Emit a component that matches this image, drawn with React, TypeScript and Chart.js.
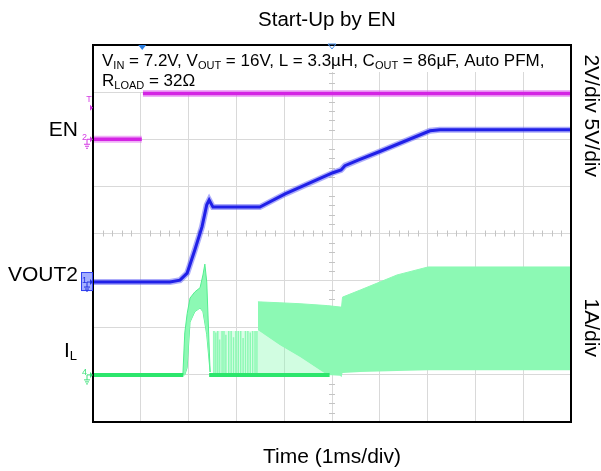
import React, { useEffect, useRef } from 'react';
import { Chart, registerables } from 'chart.js';
Chart.register(...registerables);

const FONT = '"Liberation Sans", Arial, Helvetica, sans-serif';

const TITLE = 'Start-Up by EN';
const X_TITLE = 'Time (1ms/div)';
const RIGHT_TOP = '2V/div 5V/div';
const RIGHT_BOTTOM = '1A/div';
const ANNOT_LINE1 = [
  { t: 'V' }, { t: 'IN', sub: true }, { t: ' = 7.2V, V' }, { t: 'OUT', sub: true },
  { t: ' = 16V, L = 3.3µH, C' }, { t: 'OUT', sub: true }, { t: ' = 86µF, Auto PFM,' },
];
const ANNOT_LINE2 = [{ t: 'R' }, { t: 'LOAD', sub: true }, { t: ' = 32Ω' }];

// axes in divisions
const X_DIVS = 10;
const Y_DIVS = 8;

// reference levels (divisions)
const enGround = 6.0;
const enTrigLevel = 6.73;
const voutGround = 2.97;
const ilGround = 1.0;
const trigTime = 1.03;

// EN trace (edge too fast to be captured)
const enTime = [0, 1.02, 1.03, 1.045, 10];
const enLevel = [6.0, 6.0, null, 6.97, 6.97];

// VOUT2 trace
const voutTime = [0, 1.61, 1.82, 1.97, 2.13, 2.28, 2.38, 2.43, 2.51, 3.49, 4.02, 5.02, 5.19, 5.27, 5.56, 6.0, 7.05, 7.26, 10];
const voutLevel = [2.97, 2.97, 3.01, 3.16, 3.65, 4.14, 4.61, 4.71, 4.56, 4.56, 4.84, 5.29, 5.35, 5.44, 5.56, 5.74, 6.18, 6.2, 6.2];

// IL baseline (zero-current periods)
const ilBaseTime = [0, 1.89, 2.1, 2.43, 4.95];
const ilBaseLevel = [1.0, 1.0, null, 1.0, 1.0];

// IL inrush spike envelope
const spikeTime = [1.88, 1.92, 1.97, 2.03, 2.13, 2.24, 2.3, 2.34, 2.38, 2.45];
const spikeUpper = [1.0, 1.89, 2.3, 2.63, 2.76, 2.85, 3.12, 3.35, 2.97, 1.06];
const spikeLower = [1.0, 1.0, 1.15, 2.12, 2.34, 2.42, 2.34, 2.1, 1.85, 1.06];

// IL PFM pulses
const pulseTime = [2.53, 2.57, 2.61, 2.65, 2.7, 2.74, 2.78, 2.84, 2.89, 2.94, 2.99, 3.04, 3.09, 3.14, 3.19, 3.24, 3.29, 3.34, 3.39, 3.43];
const pulseTop = [1.93, 1.9, 1.93, 1.75, 1.93, 1.93, 1.85, 1.93, 1.93, 1.8, 1.93, 1.93, 1.93, 1.78, 1.93, 1.93, 1.9, 1.93, 1.93, 1.93];
const pulseBandTime = [2.5, 3.45];
const pulseBandTop = [1.93, 1.93];
const pulseBandBottom = [1.0, 1.0];

// IL switching band envelope
const bandTime = [3.45, 3.91, 4.33, 4.9, 5.17, 5.2, 5.22, 5.59, 6.36, 7.01, 10];
const bandUpper = [2.55, 2.53, 2.51, 2.47, 2.44, 2.44, 2.65, 2.8, 3.12, 3.29, 3.29];
const bandLower = [1.95, 1.63, 1.38, 1.0, 0.98, 0.95, 1.04, 1.06, 1.08, 1.1, 1.1];
const bandFloor = [1.0, 1.0, 1.0, 1.0, 0.98, 0.95, 1.04, 1.06, 1.08, 1.1, 1.1];

const MAGENTA = 'rgb(212,36,228)';
const MAGENTA_HALO = 'rgba(226,110,240,0.55)';
const BLUE = 'rgb(32,32,232)';
const BLUE_HALO = 'rgba(90,90,245,0.5)';
const MINT = 'rgb(140,249,180)';
const MINT_LIGHT = 'rgba(140,249,180,0.4)';
const GREEN = '#2ce66c';

const pts = (xs: number[], ys: (number | null)[]) => xs.map((x, i) => ({ x, y: ys[i] }));

type Seg = { t: string; sub?: boolean };
function richWidth(ctx: CanvasRenderingContext2D, segs: Seg[], size: number, sub: number) {
  let w = 0;
  for (const s of segs) {
    ctx.font = `${s.sub ? sub : size}px ${FONT}`;
    w += ctx.measureText(s.t).width;
  }
  return w;
}
function drawRich(ctx: CanvasRenderingContext2D, segs: Seg[], x: number, y: number, size: number, sub: number) {
  let cx = x;
  ctx.textBaseline = 'alphabetic';
  ctx.textAlign = 'left';
  for (const s of segs) {
    ctx.font = `${s.sub ? sub : size}px ${FONT}`;
    ctx.fillText(s.t, cx, s.sub ? y + 3 : y);
    cx += ctx.measureText(s.t).width;
  }
}

function groundMarker(ctx: CanvasRenderingContext2D, x: number, y: number, color: string, label: string) {
  ctx.save();
  ctx.strokeStyle = color;
  ctx.fillStyle = color;
  ctx.lineWidth = 1;
  ctx.beginPath();
  ctx.moveTo(x - 3, y - 3);
  ctx.lineTo(x, y);
  ctx.lineTo(x - 3, y + 3);
  ctx.closePath();
  ctx.fill();
  ctx.beginPath();
  ctx.moveTo(x - 3, y);
  ctx.lineTo(x - 6, y);
  ctx.lineTo(x - 6, y + 5);
  ctx.moveTo(x - 9, y + 5);
  ctx.lineTo(x - 3, y + 5);
  ctx.moveTo(x - 8, y + 7);
  ctx.lineTo(x - 4, y + 7);
  ctx.moveTo(x - 7, y + 9);
  ctx.lineTo(x - 5, y + 9);
  ctx.stroke();
  ctx.font = `9px ${FONT}`;
  ctx.textAlign = 'right';
  ctx.textBaseline = 'middle';
  ctx.fillText(label, x - 6, y - 2);
  ctx.restore();
}

const scopePlugin = {
  id: 'scope',
  beforeDatasetsDraw(chart: any) {
    const { ctx, chartArea: ca } = chart;
    ctx.save();
    const xs = chart.scales.x;
    const ys = chart.scales.y;
    const xc = xs.getPixelForValue(X_DIVS / 2);
    const yc = ys.getPixelForValue(Y_DIVS / 2);
    ctx.strokeStyle = '#c4c4c4';
    ctx.lineWidth = 1;
    ctx.beginPath();
    for (let i = 1; i < Y_DIVS * 5; i++) {
      if (i % 5 === 0) continue;
      const py = Math.round(ys.getPixelForValue(i / 5)) + 0.5;
      ctx.moveTo(xc - 3, py);
      ctx.lineTo(xc + 3, py);
    }
    for (let i = 1; i < X_DIVS * 5; i++) {
      if (i % 5 === 0) continue;
      const px = Math.round(xs.getPixelForValue(i / 5)) + 0.5;
      ctx.moveTo(px, yc - 3);
      ctx.lineTo(px, yc + 3);
    }
    ctx.stroke();

    const size = 17, sub = 11;
    const w1 = richWidth(ctx, ANNOT_LINE1, size, sub);
    ctx.fillStyle = '#fff';
    ctx.fillRect(ca.left + 1, ca.top + 1, w1 + 14, 26);
    ctx.fillRect(ca.left + 1, ca.top + 27, 215, 20);
    ctx.fillStyle = '#000';
    drawRich(ctx, ANNOT_LINE1, ca.left + 9, ca.top + 21, size, sub);
    drawRich(ctx, ANNOT_LINE2, ca.left + 9, ca.top + 41, size, sub);
    ctx.restore();
  },
  afterDatasetsDraw(chart: any) {
    const { ctx, chartArea: ca } = chart;
    const xs = chart.scales.x;
    const ys = chart.scales.y;
    ctx.save();
    ctx.strokeStyle = '#000';
    ctx.lineWidth = 2;
    ctx.strokeRect(ca.left, ca.top, ca.right - ca.left, ca.bottom - ca.top);

    const tx = xs.getPixelForValue(trigTime);
    ctx.fillStyle = '#2a7de0';
    ctx.beginPath();
    ctx.moveTo(tx - 4, ca.top);
    ctx.lineTo(tx + 4, ca.top);
    ctx.lineTo(tx, ca.top + 5);
    ctx.closePath();
    ctx.fill();
    const cx = xs.getPixelForValue(X_DIVS / 2);
    ctx.strokeStyle = '#4a90e8';
    ctx.lineWidth = 1;
    ctx.beginPath();
    ctx.moveTo(cx - 4, ca.top - 1);
    ctx.lineTo(cx + 4, ca.top - 1);
    ctx.lineTo(cx, ca.top + 4);
    ctx.closePath();
    ctx.stroke();

    const L = ca.left;
    const tly = ys.getPixelForValue(enTrigLevel);
    ctx.fillStyle = '#d43ae4';
    ctx.beginPath();
    ctx.moveTo(L - 3, tly);
    ctx.lineTo(L, tly + 3);
    ctx.lineTo(L - 3, tly + 6);
    ctx.closePath();
    ctx.fill();
    ctx.font = `9px ${FONT}`;
    ctx.textAlign = 'center';
    ctx.textBaseline = 'bottom';
    ctx.fillText('T', L - 4, tly - 1);
    groundMarker(ctx, L, ys.getPixelForValue(enGround), '#d43ae4', '2');
    const vy = ys.getPixelForValue(voutGround);
    ctx.fillStyle = 'rgba(90,110,255,0.55)';
    ctx.fillRect(L - 11, vy - 9, 11, 18);
    ctx.strokeStyle = '#3040f0';
    ctx.lineWidth = 1;
    ctx.strokeRect(L - 11.5, vy - 9.5, 11, 18);
    groundMarker(ctx, L, vy, '#2030e0', '1');
    groundMarker(ctx, L, ys.getPixelForValue(ilGround), '#3de07a', '4');
    ctx.restore();
  },
  afterDraw(chart: any) {
    const { ctx, chartArea: ca } = chart;
    const ys = chart.scales.y;
    ctx.save();
    ctx.fillStyle = '#000';
    ctx.textBaseline = 'middle';
    ctx.textAlign = 'center';
    ctx.font = `20.5px ${FONT}`;
    ctx.fillText(TITLE, 327, 20);
    ctx.font = `21px ${FONT}`;
    ctx.fillText(X_TITLE, (ca.left + ca.right) / 2, ca.bottom + 35);

    ctx.save();
    ctx.translate(ca.right + 20, ys.getPixelForValue(6.5));
    ctx.rotate(Math.PI / 2);
    ctx.fillText(RIGHT_TOP, 0, 0);
    ctx.restore();
    ctx.save();
    ctx.translate(ca.right + 20, ys.getPixelForValue(2.0));
    ctx.rotate(Math.PI / 2);
    ctx.fillText(RIGHT_BOTTOM, 0, 0);
    ctx.restore();

    ctx.textAlign = 'right';
    ctx.font = `21px ${FONT}`;
    ctx.fillText('EN', ca.left - 15, ys.getPixelForValue(enGround) - 9);
    ctx.fillText('VOUT2', ca.left - 15, ys.getPixelForValue(voutGround) - 7);
    const iy = ys.getPixelForValue(ilGround) - 24;
    ctx.font = `13px ${FONT}`;
    const lw = ctx.measureText('L').width;
    ctx.fillText('L', ca.left - 16, iy + 6);
    ctx.font = `21px ${FONT}`;
    ctx.fillText('I', ca.left - 16 - lw, iy);
    ctx.restore();
  },
};

const line = (data: any[], color: string, width: number, extra: any = {}) => ({
  data,
  borderColor: color,
  borderWidth: width,
  pointRadius: 0,
  tension: 0,
  fill: false,
  spanGaps: false,
  ...extra,
});

export default function App() {
  const ref = useRef<HTMLCanvasElement>(null);
  useEffect(() => {
    const pulseData: any[] = [];
    pulseTime.forEach((x, i) => {
      pulseData.push({ x, y: ilGround }, { x, y: pulseTop[i] }, { x, y: ilGround });
    });
    const datasets: any[] = [
      line(pts(enTime, enLevel), MAGENTA, 3.5),                                 // 0
      line(pts(enTime, enLevel), MAGENTA_HALO, 7),                              // 1
      line(pts(voutTime, voutLevel), BLUE, 3),                                  // 2
      line(pts(voutTime, voutLevel), BLUE_HALO, 6),                             // 3
      line(pts(ilBaseTime, ilBaseLevel), GREEN, 4),                             // 4
      line(pts(spikeTime, spikeUpper), '#52ee8e', 1, { fill: 6, backgroundColor: MINT }), // 5
      line(pts(spikeTime, spikeLower), '#52ee8e', 1),                           // 6
      line(pulseData, MINT, 1.5),                                               // 7
      line(pts(bandTime, bandUpper), MINT, 1, { fill: 9, backgroundColor: MINT }), // 8
      line(pts(bandTime, bandLower), 'rgba(0,0,0,0)', 0, { fill: 10, backgroundColor: MINT_LIGHT }), // 9
      line(pts(bandTime, bandFloor), 'rgba(0,0,0,0)', 0),                       // 10
      line(pts(pulseBandTime, pulseBandTop), 'rgba(0,0,0,0)', 0, { fill: 12, backgroundColor: 'rgba(140,249,180,0.3)' }), // 11
      line(pts(pulseBandTime, pulseBandBottom), 'rgba(0,0,0,0)', 0),            // 12
    ];
    const chart = new Chart(ref.current!, {
      type: 'line',
      data: { datasets },
      options: {
        animation: false,
        responsive: false,
        devicePixelRatio: 1,
        layout: { padding: { left: 93, right: 30, top: 45, bottom: 49 } },
        plugins: { legend: { display: false }, tooltip: { enabled: false }, title: { display: false } },
        scales: {
          x: {
            type: 'linear', min: 0, max: X_DIVS,
            ticks: { display: false, stepSize: 1 },
            grid: { color: '#d9d9d9', lineWidth: 1, drawTicks: false },
            border: { display: false },
          },
          y: {
            type: 'linear', min: 0, max: Y_DIVS,
            ticks: { display: false, stepSize: 1 },
            grid: { color: '#d9d9d9', lineWidth: 1, drawTicks: false },
            border: { display: false },
          },
        },
      },
      plugins: [scopePlugin],
    });
    return () => chart.destroy();
  }, []);
  return (
    <div style={{ position: 'absolute', left: 0, top: 0, width: 601, height: 471, background: '#fff' }}>
      <canvas ref={ref} width={601} height={471} style={{ display: 'block' }} />
    </div>
  );
}
